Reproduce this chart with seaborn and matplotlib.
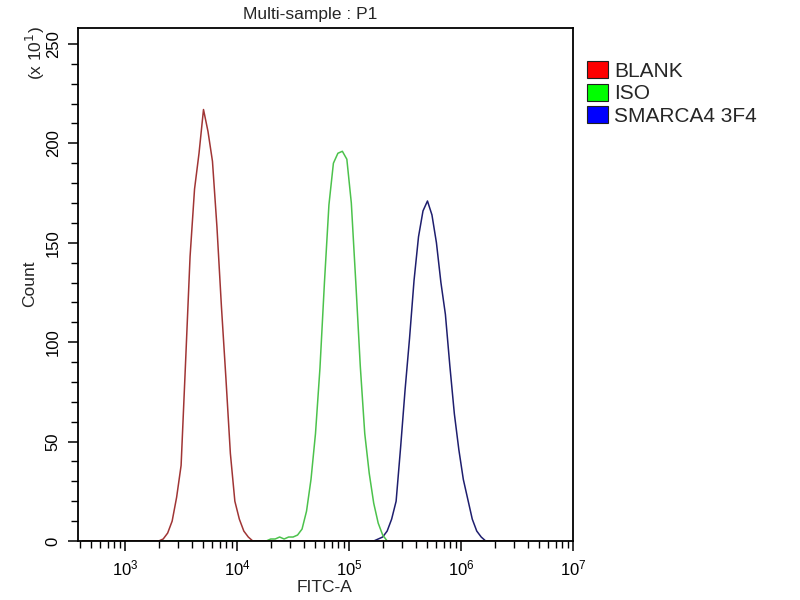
import numpy as np
import pandas as pd
import matplotlib
matplotlib.use("Agg")
import matplotlib.pyplot as plt
import seaborn as sns
from matplotlib.patches import Patch
from matplotlib.ticker import LogLocator, MultipleLocator, NullFormatter

# samples and legend
samples = ["BLANK", "ISO", "SMARCA4 3F4"]
legend_colors = ["#ff0000", "#00ff00", "#0000ff"]
line_colors = ["#a03535", "#4cc24c", "#1e1e6e"]

# channel width in log10(FITC-A), first channel of each trace
bin_width = 0.04
blank_start = 3.34
iso_start = 4.30
smarca_start = 5.22

# counts (axis units, x10^1)
blank_counts = [1, 4, 10, 22, 38, 90, 143, 177, 195, 217, 206, 191, 158, 118,
                82, 44, 20, 11, 5, 2, 0]
iso_counts = [1, 1, 2, 1, 2, 2, 3, 6, 15, 31, 54, 87, 130, 169, 190, 195, 196,
              192, 170, 130, 88, 54, 34, 19, 9, 3, 0]
smarca_counts = [0, 1, 2, 5, 11, 20, 47, 76, 102, 131, 153, 166, 171, 164, 150,
                 130, 114, 88, 64, 46, 31, 21, 11, 5, 2, 0]

rows = []
for name, start, counts in [("BLANK", blank_start, blank_counts),
                            ("ISO", iso_start, iso_counts),
                            ("SMARCA4 3F4", smarca_start, smarca_counts)]:
    for k, c in enumerate(counts):
        rows.append({"sample": name, "fitc": 10 ** (start + bin_width * k), "count": c})
df = pd.DataFrame(rows)

sns.set_style("ticks")
plt.rcParams["font.family"] = ["Liberation Sans", "DejaVu Sans"]

fig = plt.figure(figsize=(8, 6), dpi=100)
ax = fig.add_axes([78 / 800, 59 / 600, 495 / 800, 513 / 600])

edges = [round(2.60 + bin_width * i, 2) for i in range(101)]
sns.histplot(data=df, x="fitc", weights="count", hue="sample", hue_order=samples,
             palette=dict(zip(samples, line_colors)), bins=edges, log_scale=True,
             element="poly", fill=False, linewidth=1.1, legend=False, ax=ax)

ax.set_xlim(380, 1e7)
ax.set_ylim(0, 258)
ax.xaxis.set_major_locator(LogLocator(base=10, numticks=10))
ax.xaxis.set_minor_locator(LogLocator(base=10, subs=np.arange(2, 10), numticks=40))
ax.xaxis.set_minor_formatter(NullFormatter())
ax.yaxis.set_major_locator(MultipleLocator(50))
ax.yaxis.set_minor_locator(MultipleLocator(10))
ax.set_xlabel("")
ax.set_ylabel("")

for s in ax.spines.values():
    s.set_linewidth(1.3)
    s.set_color("black")
    s.set_visible(True)

ax.tick_params(which="major", direction="out", length=7.5, width=1.1,
               labelsize=12, pad=5, colors="black")
ax.tick_params(which="minor", direction="out", length=5, width=1.0, colors="black")
ax.tick_params(axis="y", labelrotation=90)
for lbl in ax.get_yticklabels():
    lbl.set_verticalalignment("center")

fig.text(310 / 800, 1 - 14 / 600, "Multi-sample : P1", ha="center", va="center", fontsize=12.5)
fig.text(325 / 800, 1 - 588 / 600, "FITC-A", ha="center", va="center", fontsize=12.5)
fig.text(30 / 800, 1 - 284 / 600, "Count", ha="center", va="center", rotation=90, fontsize=12.5)
fig.text(35 / 800, 1 - 53 / 600, "(x 10$^1$)", ha="center", va="center", rotation=90, fontsize=12.5)

handles = [Patch(facecolor=c, edgecolor="#202020", linewidth=0.8) for c in legend_colors]
fig.legend(handles, samples, loc="upper left", bbox_to_anchor=(587 / 800, 1 - 61 / 600),
           frameon=False, fontsize=15, handlelength=1.0, handleheight=0.9,
           handletextpad=0.3, labelspacing=0.13, borderpad=0, borderaxespad=0)

fig.savefig("out.png", dpi=100)
